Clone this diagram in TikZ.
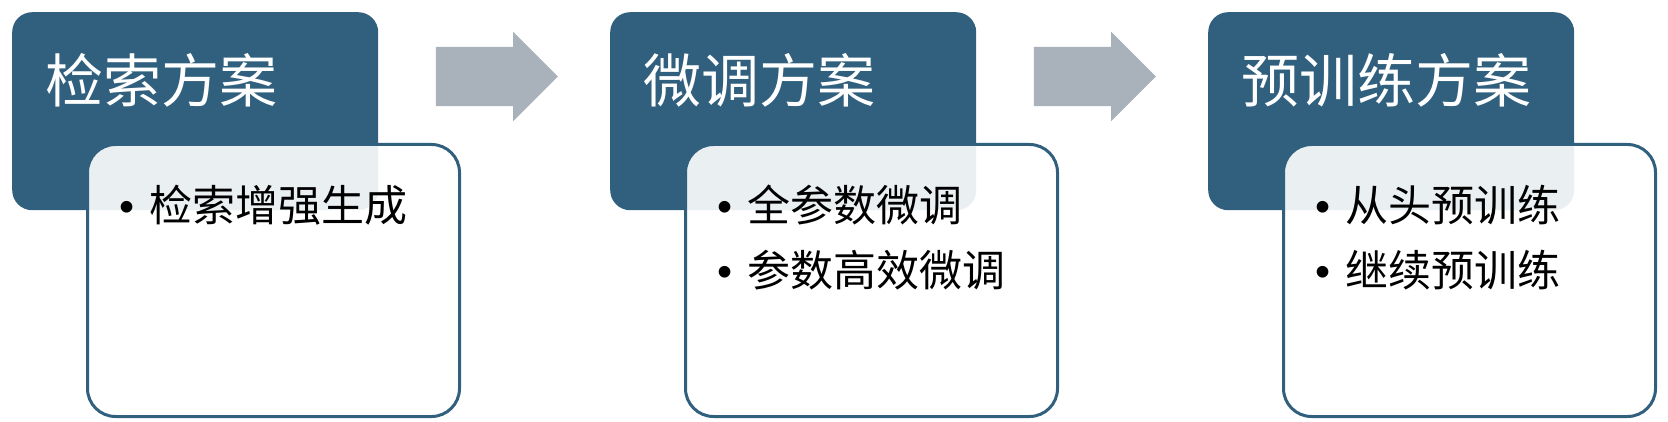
\documentclass[tikz,border=0pt]{standalone}
\usepackage{fontspec}
\setmainfont{Noto Sans CJK SC}
\newfontfamily\latinfont{Liberation Sans}
\usetikzlibrary{shapes.arrows}
\definecolor{hblue}{HTML}{31607F}
\definecolor{agray}{HTML}{A9B1BB}
\newcommand{\itembullet}{{\latinfont •}\hspace{15pt}}
\begin{document}
\begin{tikzpicture}[x=1pt,y=-1pt,
  headbox/.style={fill=hblue, draw=none, rounded corners=20pt, anchor=north west,
    minimum width=366pt, minimum height=198pt, inner sep=0pt},
  bodybox/.style={draw=hblue, line width=3pt, fill=white, fill opacity=0.9,
    rounded corners=28pt, anchor=north west, minimum width=372pt, minimum height=272pt, inner sep=0pt},
  titletext/.style={anchor=west, text=white, font=\fontsize{58pt}{62pt}\selectfont, inner sep=0pt},
  itemtext/.style={anchor=west, text=black, font=\fontsize{43pt}{48pt}\selectfont, inner sep=0pt},
  flowarrow/.style={single arrow, fill=agray, draw=none, minimum height=122pt,
    inner xsep=0pt, inner ysep=29.5pt, single arrow head extend=15pt,
    single arrow head indent=0pt, shape border rotate=0}
]
\useasboundingbox (0,0) rectangle (1668,422);
% group 1
\node[headbox] (h1) at (12,12) {};
\node[titletext] (t1) at (45,80) {检索方案};
\node[bodybox] (b1) at (86,143) {};
\node[itemtext] (i1a) at (119,205) {\itembullet 检索增强生成};
% arrow 1
\node[flowarrow] (a1) at (482,76.5) {};
% group 2
\node[headbox] (h2) at (610,12) {};
\node[titletext] (t2) at (643,80) {微调方案};
\node[bodybox] (b2) at (684,143) {};
\node[itemtext] (i2a) at (717,205) {\itembullet 全参数微调};
\node[itemtext] (i2b) at (717,270) {\itembullet 参数高效微调};
% arrow 2
\node[flowarrow] (a2) at (1080,76.5) {};
% group 3
\node[headbox] (h3) at (1208,12) {};
\node[titletext] (t3) at (1241,80) {预训练方案};
\node[bodybox] (b3) at (1282,143) {};
\node[itemtext] (i3a) at (1315,205) {\itembullet 从头预训练};
\node[itemtext] (i3b) at (1315,270) {\itembullet 继续预训练};
\end{tikzpicture}
\end{document}
